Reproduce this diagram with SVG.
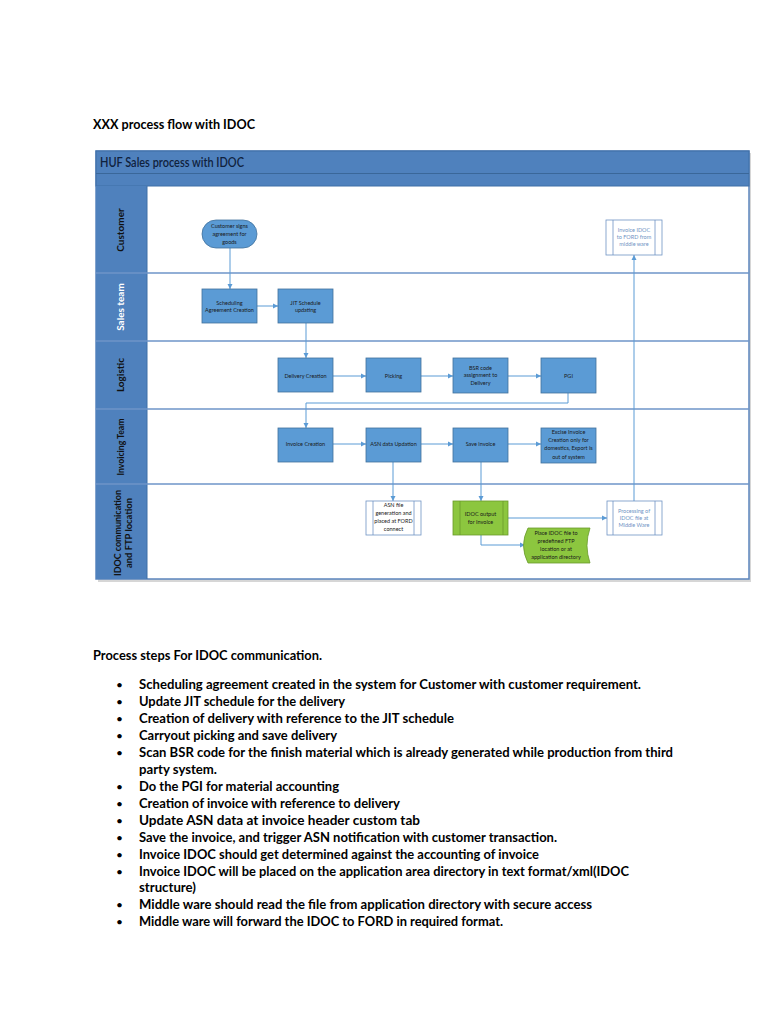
<svg xmlns="http://www.w3.org/2000/svg" width="768" height="1024" viewBox="0 0 768 1024">
<style>
.h{font-family:Lato,"Liberation Sans",sans-serif;font-weight:bold;fill:#000}
.body{font-family:Lato,"Liberation Sans",sans-serif;font-weight:bold;font-size:12.5px;fill:#000}
.lane{font-family:Lato,"Liberation Sans",sans-serif;font-weight:bold;font-size:10px;text-anchor:middle}
.nt{font-family:Lato,"Liberation Sans",sans-serif;font-size:5.5px;text-anchor:middle;fill:#1a1a1a}
.wt{font-family:Lato,"Liberation Sans",sans-serif;font-size:5.5px;text-anchor:middle;fill:#6f93c4}
.box{fill:#5b9bd5;stroke:#41719c;stroke-width:0.8}
.wbox{fill:#fff;stroke:#6f93c4;stroke-width:0.8}
.gbox{fill:#8cc63f;stroke:#6a9a2c;stroke-width:0.8}
.inl{stroke:#6f93c4;stroke-width:0.8}
.ginl{stroke:#6a9a2c;stroke-width:0.8}
.div{stroke:#6e95c8;stroke-width:1.5}
.con{fill:none;stroke:#5b9bd5;stroke-width:1}
</style>
<defs>
<marker id="ah" markerWidth="6" markerHeight="6" refX="5" refY="3" orient="auto" markerUnits="userSpaceOnUse">
<path d="M0,0.5 L5,3 L0,5.5 Z" fill="#5b9bd5"/>
</marker>
</defs>
<rect width="768" height="1024" fill="#fff"/>

<text class="h" x="93" y="129" font-size="13" textLength="162" lengthAdjust="spacingAndGlyphs">XXX process flow with IDOC</text>

<g id="pool">
<rect x="98" y="153" width="653" height="429" fill="#d6d6d6"/>
<rect x="96" y="151" width="653" height="428" fill="#fff" stroke="#5b85bd" stroke-width="1.5"/>
<rect x="96" y="151" width="653" height="35" fill="#4f81bd" stroke="#3f6fa6" stroke-width="1"/>
<line x1="96" y1="173.5" x2="749" y2="173.5" stroke="#3a6799" stroke-width="1"/>
<text x="100" y="167" font-family="Lato,'Liberation Sans',sans-serif" font-weight="600" font-size="12.5" fill="#0f223d" textLength="144" lengthAdjust="spacingAndGlyphs">HUF Sales process with IDOC</text>
<rect x="96" y="186" width="51" height="393" fill="#4f81bd"/>
<line x1="147" y1="186" x2="147" y2="579" stroke="#3f6fa6" stroke-width="1"/>
<line class="div" x1="96" y1="273" x2="749" y2="273"/>
<line class="div" x1="96" y1="341" x2="749" y2="341"/>
<line class="div" x1="96" y1="409" x2="749" y2="409"/>
<line class="div" x1="96" y1="484" x2="749" y2="484"/>
</g>

<g id="lane-customer"><text class="lane" transform="translate(124,230) rotate(-90)" fill="#111">Customer</text></g>
<g id="lane-sales"><text class="lane" transform="translate(124,307) rotate(-90)" fill="#fff">Sales team</text></g>
<g id="lane-logistic"><text class="lane" transform="translate(124,375) rotate(-90)" fill="#111">Logistic</text></g>
<g id="lane-invoicing"><text class="lane" transform="translate(124,447) rotate(-90)" fill="#111" textLength="57" lengthAdjust="spacingAndGlyphs">Invoicing Team</text></g>
<g id="lane-idoc"><text class="lane" transform="translate(121,533) rotate(-90)" fill="#111" textLength="86" lengthAdjust="spacingAndGlyphs">IDOC communication</text><text class="lane" transform="translate(132,533) rotate(-90)" fill="#111" textLength="70" lengthAdjust="spacingAndGlyphs">and FTP location</text></g>

<g id="connectors">
<path class="con" d="M230,248 V289" marker-end="url(#ah)"/>
<path class="con" d="M257,306 H278" marker-end="url(#ah)"/>
<path class="con" d="M306,323 V358" marker-end="url(#ah)"/>
<path class="con" d="M333,376 H366" marker-end="url(#ah)"/>
<path class="con" d="M421,376 H453" marker-end="url(#ah)"/>
<path class="con" d="M508,376 H541" marker-end="url(#ah)"/>
<path class="con" d="M568,393 V403 H306 V428" marker-end="url(#ah)"/>
<path class="con" d="M333,444 H366" marker-end="url(#ah)"/>
<path class="con" d="M421,444 H453" marker-end="url(#ah)"/>
<path class="con" d="M508,444 H541" marker-end="url(#ah)"/>
<path class="con" d="M393,462 V501" marker-end="url(#ah)"/>
<path class="con" d="M481,462 V501" marker-end="url(#ah)"/>
<path class="con" d="M508,518 H607" marker-end="url(#ah)"/>
<path class="con" d="M481,535 V545 H525" marker-end="url(#ah)"/>
<path class="con" d="M634,501 V255" marker-end="url(#ah)"/>
</g>

<g id="n-customer-signs">
<rect class="box" x="202" y="220" width="55" height="28" rx="14"/>
<text class="nt" x="229.5" y="228">Customer signs</text><text class="nt" x="229.5" y="236">agreement for</text><text class="nt" x="229.5" y="244">goods</text>
</g>
<g id="n-invoice-idoc-ford">
<rect class="wbox" x="606" y="220" width="56" height="35"/>
<line class="inl" x1="613" y1="220" x2="613" y2="255"/><line class="inl" x1="655" y1="220" x2="655" y2="255"/>
<text class="wt" x="634" y="232">Invoice IDOC</text><text class="wt" x="634" y="239">to FORD from</text><text class="wt" x="634" y="246">middle ware</text>
</g>
<g id="n-sched-agreement">
<rect class="box" x="202" y="289" width="55" height="34"/>
<text class="nt" x="229.5" y="305">Scheduling</text><text class="nt" x="229.5" y="312">Agreement Creation</text>
</g>
<g id="n-jit">
<rect class="box" x="278" y="289" width="55" height="34"/>
<text class="nt" x="305.5" y="305">JIT Schedule</text><text class="nt" x="305.5" y="312">updating</text>
</g>
<g id="n-delivery">
<rect class="box" x="278" y="358" width="55" height="34"/>
<text class="nt" x="305.5" y="378">Delivery Creation</text>
</g>
<g id="n-picking">
<rect class="box" x="366" y="358" width="55" height="34"/>
<text class="nt" x="393.5" y="378">Picking</text>
</g>
<g id="n-bsr">
<rect class="box" x="453" y="358" width="55" height="35"/>
<text class="nt" x="480.5" y="370">BSR code</text><text class="nt" x="480.5" y="377">assignment to</text><text class="nt" x="480.5" y="385">Delivery</text>
</g>
<g id="n-pgi">
<rect class="box" x="541" y="358" width="55" height="35"/>
<text class="nt" x="568.5" y="378">PGI</text>
</g>
<g id="n-invoice-creation">
<rect class="box" x="278" y="428" width="55" height="34"/>
<text class="nt" x="305.5" y="446">Invoice Creation</text>
</g>
<g id="n-asn-update">
<rect class="box" x="366" y="428" width="55" height="34"/>
<text class="nt" x="393.5" y="446">ASN data Updation</text>
</g>
<g id="n-save-invoice">
<rect class="box" x="453" y="428" width="55" height="34"/>
<text class="nt" x="480.5" y="446">Save invoice</text>
</g>
<g id="n-excise">
<rect class="box" x="541" y="428" width="55" height="35"/>
<text class="nt" x="568.5" y="434">Excise Invoice</text><text class="nt" x="568.5" y="442">Creation only for</text><text class="nt" x="568.5" y="450">domestics, Export is</text><text class="nt" x="568.5" y="459">out of system</text>
</g>
<g id="n-asn-file">
<rect class="wbox" x="366" y="501" width="55" height="34"/>
<line class="inl" x1="373" y1="501" x2="373" y2="535"/><line class="inl" x1="414" y1="501" x2="414" y2="535"/>
<text class="nt" x="393.5" y="507">ASN file</text><text class="nt" x="393.5" y="515">generation and</text><text class="nt" x="393.5" y="523">placed at FORD</text><text class="nt" x="393.5" y="531">connect</text>
</g>
<g id="n-idoc-output">
<rect class="gbox" x="453" y="501" width="55" height="34"/>
<line class="ginl" x1="460" y1="501" x2="460" y2="535"/><line class="ginl" x1="503" y1="501" x2="503" y2="535"/>
<text class="nt" x="480.5" y="516">IDOC output</text><text class="nt" x="480.5" y="524">for Invoice</text>
</g>
<g id="n-processing">
<rect class="wbox" x="607" y="501" width="55" height="34"/>
<line class="inl" x1="613" y1="501" x2="613" y2="535"/><line class="inl" x1="655" y1="501" x2="655" y2="535"/>
<text class="wt" x="634" y="513">Processing of</text><text class="wt" x="634" y="520">IDOC file at</text><text class="wt" x="634" y="527">Middle Ware</text>
</g>
<g id="n-place-idoc">
<path class="gbox" d="M528,528 L590,528 Q584,545.5 590,563 L528,563 Q519,545.5 528,528 Z"/>
<text class="nt" x="556" y="535">Place IDOC file to</text><text class="nt" x="556" y="543">predefined FTP</text><text class="nt" x="556" y="551">location or at</text><text class="nt" x="556" y="559">application directory</text>
</g>

<g id="steps">
<text class="body" x="93" y="660" textLength="229" lengthAdjust="spacingAndGlyphs">Process steps For IDOC communication.</text>
<g font-family="Lato,'Liberation Sans',sans-serif" font-size="12" fill="#000">
<text x="116" y="689">•</text><text x="116" y="706">•</text><text x="116" y="723">•</text><text x="116" y="740">•</text><text x="116" y="757">•</text><text x="116" y="791">•</text><text x="116" y="808">•</text><text x="116" y="825">•</text><text x="116" y="842">•</text><text x="116" y="859">•</text><text x="116" y="876">•</text><text x="116" y="909">•</text><text x="116" y="926">•</text>
</g>
<text class="body" x="139" y="689" textLength="502" lengthAdjust="spacingAndGlyphs">Scheduling agreement created in the system for Customer with customer requirement.</text>
<text class="body" x="139" y="706" textLength="206" lengthAdjust="spacingAndGlyphs">Update JIT schedule for the delivery</text>
<text class="body" x="139" y="723" textLength="315" lengthAdjust="spacingAndGlyphs">Creation of  delivery with reference to the JIT schedule</text>
<text class="body" x="139" y="740" textLength="198" lengthAdjust="spacingAndGlyphs">Carryout picking and save delivery</text>
<text class="body" x="139" y="757" textLength="534" lengthAdjust="spacingAndGlyphs">Scan BSR code for the finish material which is already generated while production from third</text>
<text class="body" x="139" y="774" textLength="78" lengthAdjust="spacingAndGlyphs">party system.</text>
<text class="body" x="139" y="791" textLength="200" lengthAdjust="spacingAndGlyphs">Do the PGI for material accounting</text>
<text class="body" x="139" y="808" textLength="261" lengthAdjust="spacingAndGlyphs">Creation of invoice with reference to delivery</text>
<text class="body" x="139" y="825" textLength="281" lengthAdjust="spacingAndGlyphs">Update ASN data at invoice header custom tab</text>
<text class="body" x="139" y="842" textLength="418" lengthAdjust="spacingAndGlyphs">Save the invoice, and trigger ASN notification with customer transaction.</text>
<text class="body" x="139" y="859" textLength="400" lengthAdjust="spacingAndGlyphs">Invoice IDOC should get determined against the accounting of invoice</text>
<text class="body" x="139" y="876" textLength="490" lengthAdjust="spacingAndGlyphs">Invoice IDOC will be placed on the application area directory in text format/xml(IDOC</text>
<text class="body" x="139" y="892" textLength="57" lengthAdjust="spacingAndGlyphs">structure)</text>
<text class="body" x="139" y="909" textLength="453" lengthAdjust="spacingAndGlyphs">Middle ware should read the file from application directory with secure access</text>
<text class="body" x="139" y="926" textLength="364" lengthAdjust="spacingAndGlyphs">Middle ware will forward the IDOC to FORD in required format.</text>
</g>
</svg>
